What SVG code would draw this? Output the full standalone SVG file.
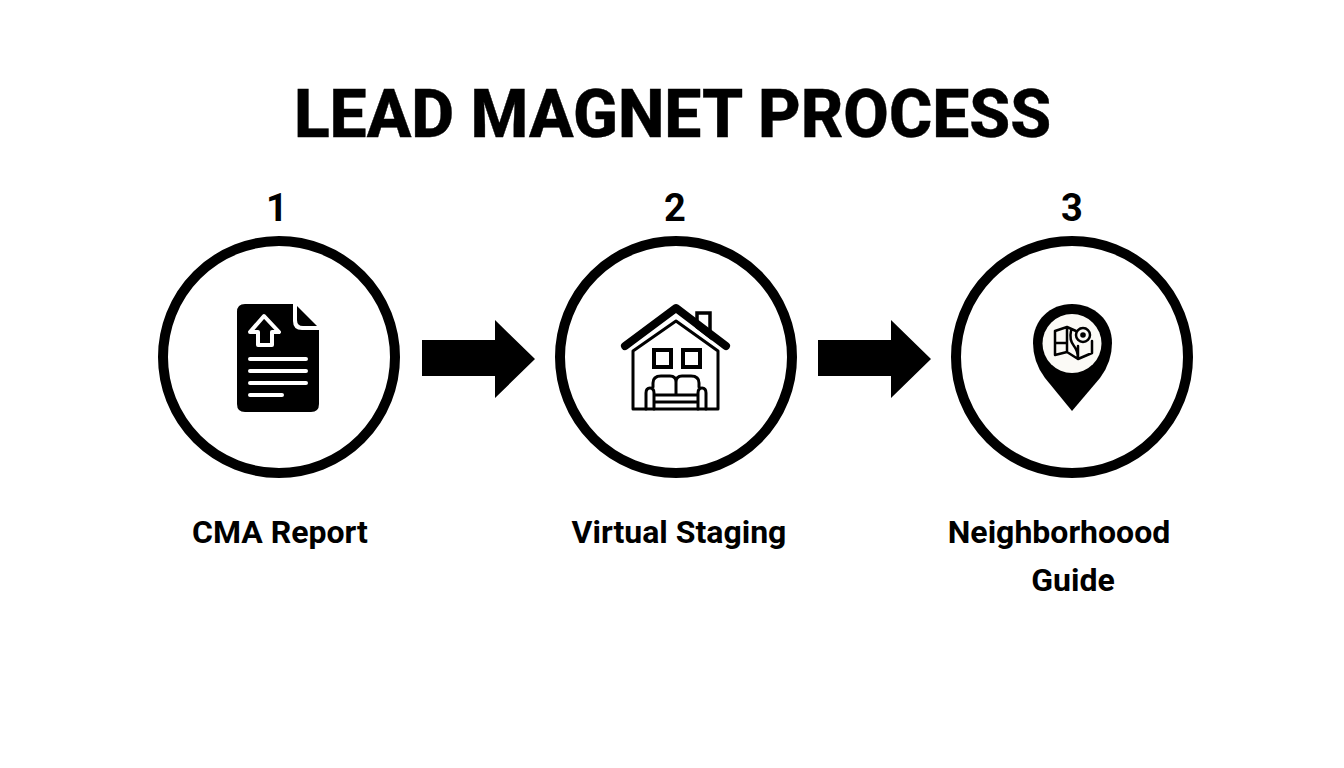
<svg xmlns="http://www.w3.org/2000/svg" width="1344" height="768" viewBox="0 0 1344 768">
<style>
text{font-family:Roboto,"Liberation Sans",sans-serif;fill:#000;text-anchor:middle}
.title{font-size:66px;font-weight:800;stroke:#000;stroke-width:.4px}
.num{font-size:38px;font-weight:700}
.label{font-size:32px;font-weight:700}
.ring{fill:#fff;stroke:#000;stroke-width:10}
.ink{fill:#000}
.wl{fill:none;stroke:#fff;stroke-width:4;stroke-linecap:round;stroke-linejoin:round}
.kl{fill:none;stroke:#000;stroke-width:3;stroke-linejoin:round;stroke-linecap:round}
.wk{fill:none;stroke:#000;stroke-width:4}
.ml{fill:none;stroke:#000;stroke-width:2.500;stroke-linejoin:round;stroke-linecap:round}
</style>
<rect width="1344" height="768" fill="#fff"/>
<text id="title" class="title" x="672.500" y="137">LEAD MAGNET PROCESS</text>
<g id="connectors">
<polygon class="ink" points="422,340 495,340 495,320 535,359 495,398 495,376 422,376"/>
<polygon class="ink" points="818,340 891,340 891,320 931,359 891,398 891,376 818,376"/>
</g>
<g id="node1">
<text class="num" x="277" y="221">1</text>
<circle class="ring" cx="279" cy="357" r="116"/>
<path class="ink" d="M245 304H293V321Q293 330 302 330H319V404Q319 412 311 412H245Q237 412 237 404V312Q237 304 245 304Z"/>
<path class="ink" d="M297 306L317 326H303Q297 326 297 320Z"/>
<path class="wl" d="M258 345V332H250L264 316L279 332H272V345Z"/>
<path class="wl" d="M250 359H306M250 371H306M250 383H306M250 395H282"/>
<text class="label" x="280" y="543">CMA Report</text>
</g>
<g id="node2">
<text class="num" x="675" y="221">2</text>
<circle class="ring" cx="676" cy="357" r="116"/>
<path fill="#fff" stroke="#000" stroke-width="3.500" d="M697 327V313H710V337Z"/>
<path fill="none" stroke="#000" stroke-width="8" stroke-linecap="round" stroke-linejoin="round" d="M625 346L676 308L726 346"/>
<path class="kl" d="M633 409V351L676 321L718 351V409H633"/>
<rect class="wk" x="654" y="350" width="17" height="17"/>
<rect class="wk" x="683" y="350" width="17" height="17"/>
<path class="kl" d="M653 387V383Q653 376 661 376H670Q676 376 676 382V395M676 382Q676 376 682 376H691Q699 376 699 383V387M654 395H698M654 402H698M646 409V393Q646 388 650 388Q654 388 654 393V409M698 409V393Q698 388 702 388Q706 388 706 393V409"/>
<text class="label" x="679" y="543">Virtual Staging</text>
</g>
<g id="node3">
<text class="num" x="1072" y="221">3</text>
<circle class="ring" cx="1072" cy="357" r="116"/>
<path class="ink" d="M1072 411L1045 378Q1033 362 1033 343C1033 320 1050 304 1072 304C1094 304 1112 320 1112 343Q1112 362 1100 378Z"/>
<circle cx="1072" cy="343.500" r="29.500" fill="#fbfaf6"/>
<path class="ml" d="M1055 331L1067 327L1076 331M1055 331V355L1067 352L1078 359L1092 353V341M1067 327V352M1078 346V359M1055 343H1067M1071 331Q1069 340 1074 346Q1078 351 1078 359"/>
<circle cx="1083" cy="335" r="7" fill="#fbfaf6" stroke="#000" stroke-width="2.500"/>
<circle cx="1083" cy="335" r="2.800" class="ink"/>
<text class="label" x="1059" y="543">Neighborhoood</text>
<text class="label" x="1073" y="591">Guide</text>
</g>
</svg>
